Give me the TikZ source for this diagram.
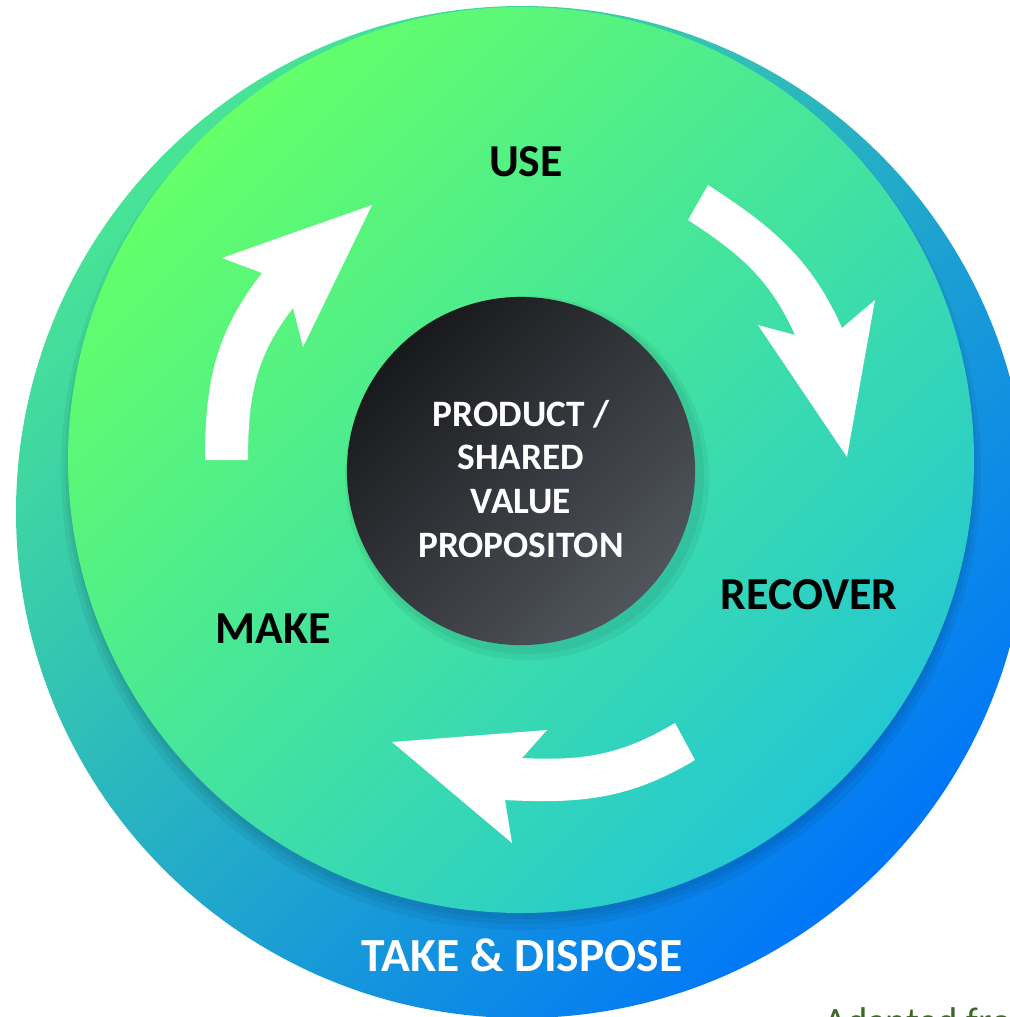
\documentclass[tikz,border=0pt]{standalone}
\usepackage{fontspec}
\setmainfont{Carlito}
\usetikzlibrary{positioning, shadows}
\definecolor{ringtop}{RGB}{72,228,150}
\definecolor{ringbot}{RGB}{0,118,248}
\definecolor{disctop}{RGB}{100,255,105}
\definecolor{discbot}{RGB}{36,200,210}
\definecolor{hubtop}{RGB}{24,25,28}
\definecolor{hubbot}{RGB}{80,85,92}
\definecolor{creditgreen}{RGB}{62,102,38}
\tikzset{
  stage/.style={font=\bfseries\fontsize{13}{15}\selectfont, text=black, inner sep=0pt},
  hublabel/.style={font=\bfseries\fontsize{10.6}{12.5}\selectfont, text=white, align=center, inner sep=0pt},
  hubdisc/.style={circle, minimum size=3.48cm, inner sep=0pt, top color=hubtop, bottom color=hubbot, shading angle=45},
  flow/.style={fill=white, draw=none},
  softshade/.style={fill=black, opacity=0.05, draw=none}
}

\begin{document}
\begin{tikzpicture}[x=0.01cm, y=0.01cm]
        \useasboundingbox (0,0) rectangle (1010,-1017);
        \clip (0,0) rectangle (1010,-1017);

        % Anillo exterior (Take & Dispose)
        \shade[top color=ringtop, bottom color=ringbot, shading angle=45] (522,-512) circle (506);

        % Sombra y disco interior
        \fill[softshade] (521,-470) circle (460);
        \fill[softshade] (521,-468) circle (456);
        \fill[softshade] (521,-466) circle (453);
        \shade[top color=disctop, bottom color=discbot, shading angle=45] (521,-460) circle (453);

        % Disco central
        \fill[softshade] (527,-478) circle (182);
        \fill[softshade] (526,-476) circle (178);
        \node (hub) [hubdisc] at (521,-471) {};
        \node (hubtext) [hublabel] at (521,-479) {PRODUCT /\\SHARED\\VALUE\\PROPOSITON};

        % Etapas
        \node (use) [stage] at (526,-162) {USE};
        \node (recover) [stage] at (809,-595) {RECOVER};
        \node (make) [stage] at (273,-629) {MAKE};
        \node (take) [stage, text=white, font=\bfseries\fontsize{13.5}{15}\selectfont] at (522,-955) {TAKE \& DISPOSE};

        % Flechas del ciclo
        \coordinate (m1) at (205,-460);
        \coordinate (m2) at (248,-460);
        \fill[flow] (m1) to[out=90, in=232] (262,-273) -- (222,-258) -- (372,-205)
          -- (303,-347) -- (293,-308) to[out=232, in=90] (m2) -- cycle;

        \coordinate (u1) at (708,-185);
        \coordinate (u2) at (688,-220);
        \fill[flow] (u1) to[out=-33, in=114] (842,-328) -- (875,-300) -- (847,-457)
          -- (758,-325) -- (795,-335) to[out=114, in=-33] (u2) -- cycle;

        \coordinate (r1) at (675,-723);
        \coordinate (r2) at (695,-760);
        \fill[flow] (r2) to[out=-149, in=-3] (505,-800) -- (512,-843) -- (392,-742)
          -- (547,-730) -- (522,-758) to[out=-3, in=-149] (r1) -- cycle;

        % Fuente
        \node (credit) [anchor=north west, inner sep=0pt, text=creditgreen, font=\fontsize{11}{13}\selectfont] at (824,-1007) {Adapted from};

        \end{tikzpicture}
\end{document}
